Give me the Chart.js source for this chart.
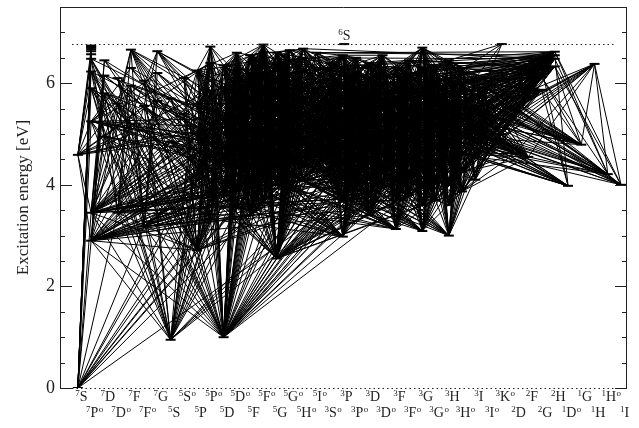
<!DOCTYPE html>
<html>
<head>
<meta charset="utf-8">
<title>Grotrian diagram</title>
<script src="https://cdn.jsdelivr.net/npm/chart.js"></script>
<style>
  body { margin: 0; background: #fff; }
  #wrap { width: 639px; height: 428px; }
</style>
</head>
<body>
<div id="wrap"><canvas id="grotrian" width="639" height="428"></canvas></div>
<script>
// term columns, left to right (trailing "o" = odd parity)
const terms = [
  "7S","7Po","7D","7Do","7F","7Fo","7G","5S","5So","5P","5Po","5D","5Do","5F","5Fo",
  "5G","5Go","5Ho","5Io","3So","3P","3Po","3D","3Do","3F","3Fo","3G","3Go","3H","3Ho",
  "3I","3Io","3Ko","2D","2F","2G","2H","1Do","1G","1H","1Ho","1I"
];

// level energies (eV) per term
const septetLevels = [
  ["7S",  [0.00, 4.59]],
  ["7Po", [2.90, 3.45, 5.25, 5.90, 6.23, 6.48, 6.57, 6.63, 6.67, 6.70, 6.72, 6.74]],
  ["7D",  [4.95, 5.80, 6.15, 6.45]],
  ["7Do", [3.45, 5.60, 6.10]],
  ["7F",  [5.20, 5.95, 6.30, 6.66]],
  ["7Fo", [3.18, 5.55, 6.05]],
  ["7G",  [5.65, 6.20, 6.63]]
];
const quintetLevels = [
  ["5S",  [0.95, 4.85, 5.70]],
  ["5So", [3.85, 5.40, 6.10]],
  ["5P",  [2.71, 4.20, 5.00, 5.60, 6.25]],
  ["5Po", [3.32, 3.88, 4.55, 5.20, 5.85, 6.40, 6.72]],
  ["5D",  [1.00, 3.80, 4.50, 5.30, 5.90, 6.35]],
  ["5Do", [3.55, 3.92, 4.40, 4.75, 5.00, 5.35, 5.60, 5.85, 6.10, 6.35, 6.60]],
  ["5F",  [3.40, 3.95, 4.30, 4.70, 5.10, 5.45, 5.70, 6.00, 6.20, 6.55]],
  ["5Fo", [3.65, 4.20, 4.50, 4.75, 5.05, 5.30, 5.60, 5.90, 6.20, 6.45, 6.62, 6.76]],
  ["5G",  [2.55, 4.00, 4.35, 4.60, 4.95, 5.20, 5.50, 5.80, 6.10, 6.40, 6.60]],
  ["5Go", [3.90, 4.20, 4.50, 4.80, 5.10, 5.35, 5.60, 5.90, 6.20, 6.45, 6.65]],
  ["5Ho", [4.10, 4.45, 4.80, 5.10, 5.40, 5.70, 6.00, 6.25, 6.50, 6.68]],
  ["5Io", [4.60, 5.10, 5.50, 5.90, 6.30, 6.60]]
];
const tripletLevels = [
  ["3So", [4.20, 5.00, 5.80, 6.40]],
  ["3P",  [2.98, 3.70, 4.10, 4.40, 4.75, 5.10, 5.40, 5.70, 6.00, 6.30, 6.55]],
  ["3Po", [3.90, 4.20, 4.50, 4.85, 5.20, 5.55, 5.90, 6.20, 6.50]],
  ["3D",  [3.40, 3.75, 4.10, 4.45, 4.80, 5.15, 5.50, 5.80, 6.10, 6.40]],
  ["3Do", [3.95, 4.30, 4.60, 4.95, 5.30, 5.65, 6.00, 6.30, 6.55]],
  ["3F",  [3.13, 3.70, 4.05, 4.40, 4.70, 5.00, 5.35, 5.70, 6.00, 6.30]],
  ["3Fo", [3.80, 4.15, 4.50, 4.85, 5.20, 5.50, 5.85, 6.15, 6.45]],
  ["3G",  [3.09, 3.60, 3.95, 4.30, 4.65, 5.00, 5.45, 5.90, 6.30, 6.70]],
  ["3Go", [3.70, 4.05, 4.40, 4.75, 5.10, 5.40, 5.75, 6.05, 6.35]],
  ["3H",  [3.00, 3.60, 4.00, 4.40, 4.80, 5.20, 5.65, 6.10, 6.45]],
  ["3Ho", [3.87, 4.25, 4.60, 4.95, 5.30, 5.65, 6.00, 6.30]],
  ["3I",  [4.10, 4.55, 5.00, 5.55, 6.10]],
  ["3Io", [4.70, 5.20, 5.60, 6.05]],
  ["3Ko", [5.00, 6.77]]
];
const otherLevels = [
  ["2D",  [4.62]],
  ["2F",  [4.55]],
  ["2G",  [5.87, 6.12, 6.30]],
  ["2H",  [6.33, 6.48, 6.55, 6.62]],
  ["1Do", [3.98]],
  ["1G",  [4.79]],
  ["1H",  [6.38]],
  ["1Ho", [4.21]],
  ["1I",  [4.00]]
];

const ionLimit = 6.77;        // eV, 6S of the ion
const ionColumn = 20.1;
const yTicks = [0, 2, 4, 6];

// transitions: "level: connected levels" (5Do0-4 = levels 0 to 4 of 5Do)
const septetLines = [
  "7S0: 7Po0-11 7Do0 7Fo0 5So0 5Po0-2 5Do0-2 5Fo0-1 3Po0",
  "7S1: 7Po0-6 7Po8 7Do1 7Fo1 5Po3-5 5Do4 5So1 5Fo5",
  "7Po0: 7D0-3 7F0 5S1-2 5P1-2 5D1-4 5F0-5 5G1-2 5G4-6 3P2 3D0-5 3F2-3",
  "7Po1: 7D0-3 7F0-1 5S1-2 5P2-3 5D1 5D3-5 5F1-2 5F4-7 5G1-3 5G5-7 3P3 3D1 3D3 3F1 3F3 3G3",
  "7Po2: 5S0 5D0 5P0 7F1-2 7G1 5P2 5P4 5F2 5F4 5D3 5G3 3D1 3F2 3P3",
  "7Po3: 5S0 5D0 5P0 7D0 7F0 5G0 3P0",
  "7Po4: 5S0 5D0 5P0 7D0 7F0 5G0 3F0",
  "7Po5: 5S0 5D0 5P0 7D0 7F0 3H0",
  "7Do0: 7D0-1 7F0-1 7G0 5D0 5S0 5P0 5D2 5F1-5 5G1 3D1",
  "7Do1: 5D0 5S0 5P0 5G0 7D0",
  "7Do2: 5D0 5S0 5P0 5G0 7F0",
  "7Fo0: 7D0-1 7F0-1 7G0-1 5D0 5D2 5F1 5F3-5 5G1-5 3F1 3G1",
  "7Fo1: 5D0 5S0 5P0 5G0 3P0 7D0",
  "7Fo2: 5D0 5S0 5P0 5G0 3F0",
  "7D0: 5Po0 5Do0 5Fo1 3Po1 5Do2",
  "7D1: 5Po1 5Do1 5Fo2 3Do1",
  "7D2: 5Po2 5Fo0 3Po2",
  "7D3: 5Po0 5Do0 5Go1",
  "7F0: 5Do1 5Fo0 5Go0 3Fo1",
  "7F1: 5Fo1 5Go1 5Do2 3Go1",
  "7F2: 5Do0 5Fo0 5Go2",
  "7F3: 7Po0-1 7Do0 7Fo0 5So0 5Po0-1 5Do0-1 5Fo0 5Go0 3Po0 3Fo0",
  "7G0: 5Go0 5Fo1 5Ho1",
  "7G1: 5Go0 5Fo0 5Ho0",
  "7G2: 7Po1 7Do0 7Fo0 5Fo0-1 5Go0 5Ho0 5Do1 3Go0 3Fo0"
];
const quintetLines = [
  "5S0: 7Po0-1 5So0 5Po0-6 5Do0-3 3So0 3Po0-2 5Fo1",
  "5S1: 5Po0-1 5Do0 3Po0 5Fo0",
  "5S2: 5Po0-2 5Do1 3Po1",
  "5P0: 7Po0-1 5So0-2 5Po0-6 5Do0-8 3So0 3Po0-1 3Do0",
  "5P1: 5So0-2 5Po0-6 5Do0-10",
  "5P2: 5So0-2 5Po0-6 5Do0-10",
  "5P3: 5So0-2 5Po0-6 5Do0-10 3Po0-2",
  "5P4: 5So0-2 5Po0-6 5Do0-10 3So0-1",
  "5D0: 7Po0-5 7Do0-2 7Fo0-2 5So0-1 5Po0-6 5Do0-10 5Fo0-11 5Go0-2 3Po0-6 3Do0-6 3Fo0-4",
  "5D1: 5Po0-6 5Do0-10 5Fo0-11 3Do2-6",
  "5D2: 5Po0-6 5Do0-10 5Fo0-11 3Po4-8",
  "5D3: 5Po0-6 5Do0-10 5Fo0-11 3Fo0-3",
  "5D4: 5Po0-6 5Do0-10 5Fo0-11 3Do0-3",
  "5D5: 5Po0-6 5Do0-10 5Fo0-11 3Po0-3",
  "5F0: 7Do0 7Fo0 5Do0-10 5Fo0-11 5Go0-10 3Do3-8",
  "5F1: 5Do0-10 5Fo0-11 5Go0-10 3Fo4-8",
  "5F2: 5Do0-10 5Fo0-11 5Go0-10",
  "5F3: 5Do0-10 5Fo0-11 5Go0-10 3Do0-4",
  "5F4: 5Do0-10 5Fo0-11 5Go0-10",
  "5F5: 5Do0-10 5Fo0-11 5Go0-10 3Go0-4",
  "5F6: 5Do0-10 5Fo0-11 5Go0-10",
  "5F7: 5Do0-10 5Fo0-11 5Go0-10 3Fo0-4 1Do0",
  "5F8: 5Do0-10 5Fo0-11 5Go0-10",
  "5F9: 5Do0-10 5Fo0-11 5Go0-10 3Do0-3 1Do0",
  "5G0: 7Fo1 7Do1 5Do0-4 5Fo0-11 5Go0-10 5Ho0-9 5Io0-5 3Fo0-5 3Go0-5 3Ho0-3",
  "5G1: 5Fo0-11 5Go0-10 5Ho0-9 3So0-3 3Po0-8",
  "5G2: 5Fo0-11 5Go0-10 5Ho0-9 5Io0-5 3Go4-8",
  "5G3: 5Fo0-11 5Go0-10 5Ho0-9 3So0-3 3Po0-8",
  "5G4: 5Fo0-11 5Go0-10 5Ho0-9 3Ho4-7",
  "5G5: 5Fo0-11 5Go0-10 5Ho0-9 3Po0-8",
  "5G6: 5Fo0-11 5Go0-10 5Ho0-9 5Io0-5 3Fo0-3",
  "5G7: 5Fo0-11 5Go0-10 5Ho0-9 3So0-3 3Po0-8",
  "5G8: 5Fo0-11 5Go0-10 5Ho0-9 3Go0-3",
  "5G9: 5Fo0-11 5Go0-10 5Ho0-9 3Po0-8",
  "5G10: 5Fo0-11 5Go0-10 5Ho0-9 3Ho0-3 1Ho0"
];
const tripletLines = [
  "3P0: 5So0-2 5Po0-4 5Do0-5 3So0-3 3Po0-8 3Do0-8",
  "3P1: 3So0-3 3Po0-8 3Do0-8 5Go0-10 5Ho0-9",
  "3P2: 3So0-3 3Po0-8 3Do0-8 5Po4-6 5Ho0-9",
  "3P3: 3So0-3 3Po0-8 3Do0-8 5Go0-10 5Io0-5",
  "3P4: 3So0-3 3Po0-8 3Do0-8 5Do7-10 5Go0-10",
  "3P5: 3So0-3 3Po0-8 3Do0-8 5Ho0-9 5Io0-5",
  "3P6: 3So0-3 3Po0-8 3Do0-8 5Fo0-3 5Io0-5 1Do0",
  "3P7: 3So0-3 3Po0-8 3Do0-8 5Go0-10 5Ho0-9",
  "3P8: 3So0-3 3Po0-8 3Do0-8 5Po0-2 5Ho0-9 1Do0",
  "3P9: 3So0-3 3Po0-8 3Do0-8 5Io0-5 5Ho0-9",
  "3P10: 3So0-3 3Po0-8 3Do0-8 5Do0-3 5Go0-10 1Do0",
  "3D0: 3Po0-8 3Do0-8 3Fo0-8 5Io0-5",
  "3D1: 3Po0-8 3Do0-8 3Fo0-8 5Fo7-11",
  "3D2: 3Po0-8 3Do0-8 3Fo0-8 5Ho0-9",
  "3D3: 3Po0-8 3Do0-8 3Fo0-8 5Go6-10",
  "3D4: 3Po0-8 3Do0-8 3Fo0-8 5Io0-5",
  "3D5: 3Po0-8 3Do0-8 3Fo0-8 1Do0",
  "3D6: 3Po0-8 3Do0-8 3Fo0-8 5Ho0-9",
  "3D7: 3Po0-8 3Do0-8 3Fo0-8 5Fo0-3 1Do0",
  "3D8: 3Po0-8 3Do0-8 3Fo0-8 5Io0-5",
  "3D9: 3Po0-8 3Do0-8 3Fo0-8 5Do0-3 1Do0",
  "3F0: 3Do0-8 3Fo0-8 3Go0-8 5Fo0-5 5Go0-4 5Do0-2",
  "3F1: 3Do0-8 3Fo0-8 3Go0-8",
  "3F2: 3Do0-8 3Fo0-8 3Go0-8 5Go6-10",
  "3F3: 3Do0-8 3Fo0-8 3Go0-8",
  "3F4: 3Do0-8 3Fo0-8 3Go0-8 5Ho5-9",
  "3F5: 3Do0-8 3Fo0-8 3Go0-8 1Do0",
  "3F6: 3Do0-8 3Fo0-8 3Go0-8 1Do0",
  "3F7: 3Do0-8 3Fo0-8 3Go0-8 5Go0-3 1Do0",
  "3F8: 3Do0-8 3Fo0-8 3Go0-8 1Do0",
  "3F9: 3Do0-8 3Fo0-8 3Go0-8 5Ho0-3 1Do0 1Ho0",
  "3G0: 3Fo0-8 3Go0-8 3Ho0-7 5Go0-5 5Ho0-4",
  "3G1: 3Fo0-8 3Go0-8 3Ho0-7",
  "3G2: 3Fo0-8 3Go0-8 3Ho0-7",
  "3G3: 3Fo0-8 3Go0-8 3Ho0-7 5Ho5-9",
  "3G4: 3Fo0-8 3Go0-8 3Ho0-7",
  "3G5: 3Fo0-8 3Go0-8 3Ho0-7 5Io3-5 1Ho0",
  "3G6: 3Fo0-8 3Go0-8 3Ho0-7 1Do0 1Ho0",
  "3G7: 3Fo0-8 3Go0-8 3Ho0-7 1Ho0 1Do0",
  "3G8: 3Fo0-8 3Go0-8 3Ho0-7 5Go0-3 1Ho0",
  "3G9: 3Fo0-8 3Go0-8 3Ho0-7 5Ho0-3 1Ho0 1G0",
  "3H0: 3Go0-8 3Ho0-7 3Io0-3 5Ho0-5 5Io0-3",
  "3H1: 3Go0-8 3Ho0-7 3Io0-3",
  "3H2: 3Go0-8 3Ho0-7 3Io0-3",
  "3H3: 3Go0-8 3Ho0-7 3Io0-3",
  "3H4: 3Go0-8 3Ho0-7 3Io0-3 1Ho0 1I0",
  "3H5: 3Go0-8 3Ho0-7 3Io0-3 3Ko0 1Ho0 1I0",
  "3H6: 3Go0-8 3Ho0-7 3Io0-3 3Ko0 1Ho0 1I0",
  "3H7: 3Go0-8 3Ho0-7 3Io0-3 3Ko0-1 1Ho0 1I0",
  "3H8: 3Go0-8 3Ho0-7 3Io0-3 3Ko0-1 1I0 5Io0-2",
  "3I0: 3Ho0-7 3Io0-3 3Ko0",
  "3I1: 3Ho0-7 3Io0-3 3Ko0 1Ho0",
  "3I2: 3Ho0-7 3Io0-3 3Ko0 1Ho0 1I0",
  "3I3: 3Ho0-7 3Io0-3 3Ko0-1 1I0",
  "3I4: 3Ho0-7 3Io0-3 3Ko0-1 1Ho0 1I0"
];
const rightLines = [
  "2D0: 3Po5-8 3Do5-8 3Fo6-8 3Ho0-7 1H0",
  "2F0: 3Do6-8 3Fo5-8 3Go6-8 3Ho0-7 3Io0-3 1H0",
  "2G0: 3Fo0-8 3Go0-8 3Ho0-4 3Ko0 1Do0 1G0",
  "2G1: 3Go0-8 3Ho0-7 3Io0-3 3Ko0 1G0 1Ho0",
  "2G2: 3Fo0-8 3Ho0-7 5Ho0-4 3Ko0 1Do0",
  "2H0: 3Go0-8 3Io0-3 3Fo0-8 3Ko0 1G0 1I0",
  "2H1: 3Ho0-7 5Ho0-9 3Io0-3 3Ko0 1Ho0",
  "2H2: 3Go0-8 3Ho0-7 5Io0-5 3Ko0 1Do0",
  "2H3: 3Ho0-7 3Io0-3 5Io0-5 3Fo0-4 3Ko0 1I0 1Ho0",
  "1G0: 3Fo6-8 3Go5-8 3Ho3-7 3Io2-3 5Go9-10",
  "1H0: 1G0 1Ho0 1I0 3Ho1-4 3Go1-3 3Io0-1",
  "1I0: 3Io1-3"
];

// ---- build point lists ----
const levelPos = {};
[septetLevels, quintetLevels, tripletLevels, otherLevels].forEach(group => {
  group.forEach(([term, energies]) => {
    const col = terms.indexOf(term);
    energies.forEach((e, i) => { levelPos[term + i] = {x: col, y: e}; });
  });
});
const levelPoints = Object.values(levelPos).concat([{x: ionColumn, y: ionLimit}]);

function expand(token) {
  const m = token.match(/^(\d[A-Z]o?)(\d+)(?:-(\d+))?$/);
  if (!m) return [];
  const out = [];
  const lo = +m[2], hi = m[3] === undefined ? lo : +m[3];
  for (let i = lo; i <= hi; i++) out.push(m[1] + i);
  return out;
}

const seen = new Set();
const linePoints = [];
[septetLines, quintetLines, tripletLines, rightLines].forEach(group => {
  group.forEach(row => {
    const [src, rest] = row.split(':');
    rest.trim().split(/\s+/).flatMap(expand).forEach(dst => {
      const key = [src, dst].sort().join('-');
      if (src === dst || seen.has(key) || !levelPos[src] || !levelPos[dst]) return;
      seen.add(key);
      linePoints.push(levelPos[src], levelPos[dst], {x: levelPos[dst].x, y: null});
    });
  });
});

const serif = '"Liberation Serif", "DejaVu Serif", serif';
const ink = '#222';

function drawTerm(ctx, key, cx, baseY) {
  const mult = key[0], letter = key[1], odd = key.endsWith('o');
  ctx.font = '14px ' + serif;
  const wL = ctx.measureText(letter).width;
  ctx.font = '9px ' + serif;
  const wM = ctx.measureText(mult).width;
  const wO = odd ? ctx.measureText('o').width + 0.5 : 0;
  const x0 = cx - (wM + wL + wO) / 2;
  ctx.fillText(mult, x0, baseY - 5);
  if (odd) ctx.fillText('o', x0 + wM + wL + 0.5, baseY - 5);
  ctx.font = '14px ' + serif;
  ctx.fillText(letter, x0 + wM, baseY);
}

const decor = {
  id: 'decor',
  afterDraw(chart) {
    const {ctx, chartArea: a, scales: {x, y}} = chart;
    ctx.save();
    ctx.strokeStyle = ink;
    ctx.lineWidth = 1;
    // frame (bottom edge is the dotted zero line)
    ctx.beginPath();
    ctx.moveTo(a.left + 0.5, a.bottom);
    ctx.lineTo(a.left + 0.5, a.top + 0.5);
    ctx.lineTo(a.right - 0.5, a.top + 0.5);
    ctx.lineTo(a.right - 0.5, a.bottom);
    ctx.stroke();
    // inward ticks on both sides
    ctx.beginPath();
    for (let v = 0; v <= y.max + 1e-9; v += 0.5) {
      const py = Math.round(y.getPixelForValue(v)) + 0.5;
      const len = yTicks.includes(v) ? 12 : 5;
      ctx.moveTo(a.left, py); ctx.lineTo(a.left + len, py);
      ctx.moveTo(a.right, py); ctx.lineTo(a.right - len, py);
    }
    ctx.stroke();
    // dotted lines: ground and ionisation limit
    ctx.setLineDash([1.5, 3]);
    ctx.beginPath();
    [0, ionLimit].forEach(v => {
      const py = Math.round(y.getPixelForValue(v)) + 0.5;
      ctx.moveTo(a.left + 12, py); ctx.lineTo(a.right - 12, py);
    });
    ctx.stroke();
    ctx.setLineDash([]);
    // term labels, alternating rows
    ctx.fillStyle = ink;
    ctx.textAlign = 'left';
    ctx.textBaseline = 'alphabetic';
    terms.forEach((t, i) => {
      const cx = x.getPixelForValue(i) + 3.5;
      drawTerm(ctx, t, cx, i % 2 === 0 ? 401 : 417);
    });
    // ion term label
    const ix = x.getPixelForValue(ionColumn);
    const iy = y.getPixelForValue(ionLimit);
    ctx.font = '9px ' + serif;
    ctx.fillText('6', ix - 6, iy - 9);
    ctx.font = '14px ' + serif;
    ctx.fillText('S', ix - 1.5, iy - 4);
    ctx.restore();
  }
};

new Chart(document.getElementById('grotrian'), {
  type: 'line',
  data: {
    datasets: [
      {
        data: linePoints,
        borderColor: '#000',
        borderWidth: 1,
        pointRadius: 0,
        spanGaps: false,
        tension: 0
      },
      {
        data: levelPoints,
        showLine: false,
        pointStyle: 'line',
        pointRadius: 5,
        pointBorderWidth: 2,
        pointBorderColor: '#000'
      }
    ]
  },
  options: {
    responsive: false,
    animation: false,
    layout: { padding: { top: 7, right: 12, left: 0, bottom: 0 } },
    plugins: { legend: { display: false }, tooltip: { enabled: false } },
    scales: {
      x: {
        type: 'linear',
        min: -1.35,
        max: 41.45,
        grid: { display: false },
        border: { display: false },
        ticks: { display: false },
        afterFit: s => { s.height = 40; s.paddingLeft = 0; s.paddingRight = 0; }
      },
      y: {
        min: 0,
        max: 7.5,
        afterBuildTicks: s => { s.ticks = yTicks.map(v => ({value: v})); },
        grid: { display: false, drawTicks: false },
        border: { display: false },
        ticks: { color: ink, padding: 5, font: { family: serif, size: 18 } },
        title: {
          display: true,
          text: 'Excitation energy [eV]',
          color: ink,
          padding: { top: 13, bottom: 0 },
          font: { family: serif, size: 17 }
        },
        afterFit: s => { s.width = 60; s.paddingTop = 0; s.paddingBottom = 0; }
      }
    }
  },
  plugins: [decor]
});
</script>
</body>
</html>
